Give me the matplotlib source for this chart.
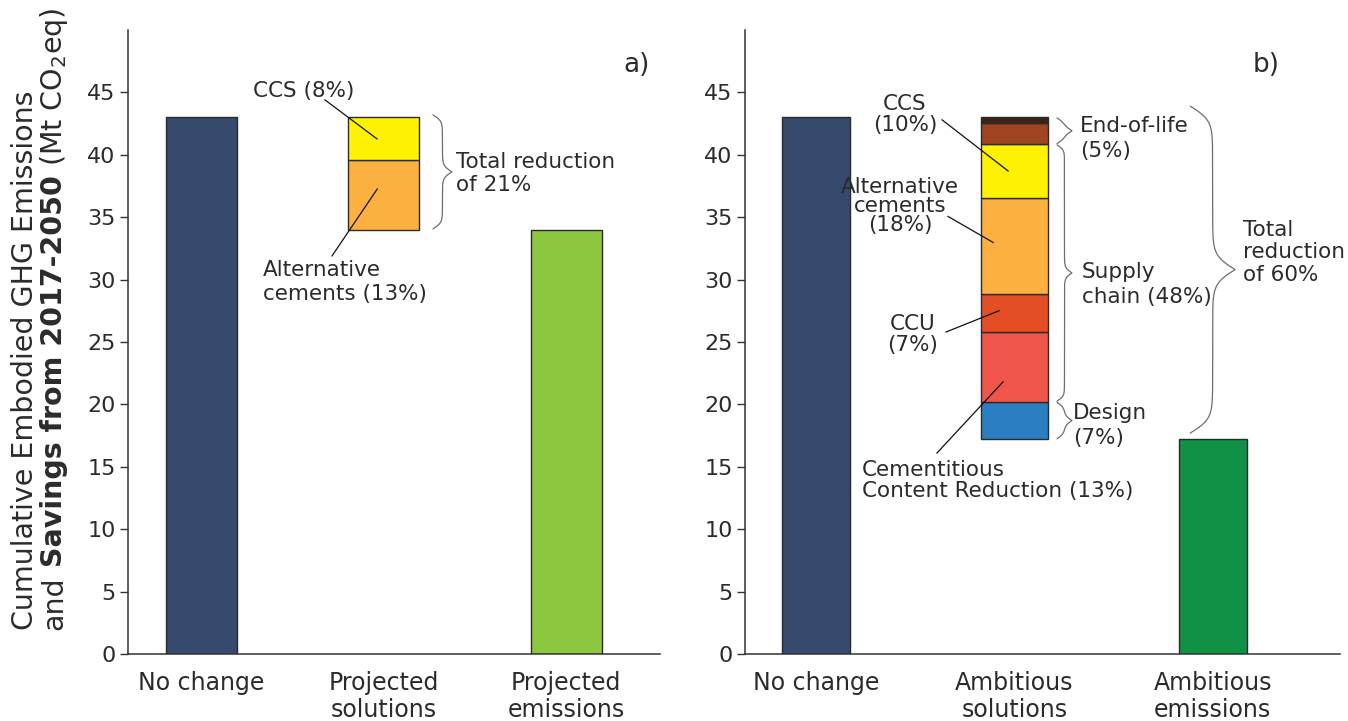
import numpy as np
import matplotlib
matplotlib.use("Agg")
import matplotlib.pyplot as plt

# ---------------- data ----------------
baseline_mt = 43.0  # cumulative embodied GHG emissions with no change (Mt CO2eq)

cats_a = ["No change", "Projected\nsolutions", "Projected\nemissions"]
cats_b = ["No change", "Ambitious\nsolutions", "Ambitious\nemissions"]

# savings, as % of the no-change total, stacked from the bottom up
sav_a_names = ["Alternative cements", "CCS"]
sav_a_pct = [13, 8]

sav_b_names = ["Design", "Cementitious content reduction", "CCU",
               "Alternative cements", "CCS", "End-of-life (reuse)",
               "End-of-life (other)"]
sav_b_pct = [7, 13, 7, 18, 10, 4, 1]

# brace groups for panel b: label, first segment, last segment
groups_b = [("End-of-life\n(5%)", 5, 6),
            ("Supply\nchain (48%)", 1, 4),
            ("Design\n(7%)", 0, 0)]

# ---------------- style ----------------
NAVY = "#364A6E"
GREEN_A = "#8DC63F"
GREEN_B = "#0F9246"
EDGE = "#2a2a2a"
TXT = "#2b2b2b"
BRACE = "#6e6e6e"
sav_a_colors = ["#FBB040", "#FFF200"]
sav_b_colors = ["#2B7EC1", "#EF5548", "#E54E25", "#FBB040", "#FFF200",
                "#A0451F", "#3C2415"]

plt.rcParams["font.family"] = ["DejaVu Sans"]
plt.rcParams["text.color"] = TXT

FIG_W, FIG_H = 1348, 721
fig = plt.figure(figsize=(FIG_W / 100, FIG_H / 100), dpi=100)
ax_a = fig.add_axes([128 / FIG_W, 1 - 654 / FIG_H, 532 / FIG_W, 624 / FIG_H])
ax_b = fig.add_axes([745 / FIG_W, 1 - 654 / FIG_H, 595 / FIG_W, 624 / FIG_H])


def style_axes(ax, cats, xlim):
    ax.set_xlim(*xlim)
    ax.set_ylim(0, 50)
    ax.set_yticks(np.arange(0, 50, 5))
    ax.set_xticks(range(len(cats)))
    ax.set_xticklabels(cats, fontsize=17, color=TXT)
    ax.tick_params(axis="x", length=0, pad=12)
    ax.tick_params(axis="y", direction="out", length=6, width=1,
                   color="#333333", labelsize=16, labelcolor=TXT, pad=3)
    for s in ("top", "right"):
        ax.spines[s].set_visible(False)
    for s in ("left", "bottom"):
        ax.spines[s].set_color("#333333")
        ax.spines[s].set_linewidth(1.1)


def brace(ax, x, y0, y1, width_px, curl_px, color=BRACE, lw=0.9):
    """Right-pointing curly brace from y0 to y1, left edge at x (data)."""
    bb = ax.get_position()
    xr, yr = ax.get_xlim(), ax.get_ylim()
    px_x = bb.width * FIG_W / (xr[1] - xr[0])
    px_y = bb.height * FIG_H / (yr[1] - yr[0])
    L = (y1 - y0) * px_y
    k = L / curl_px
    u = np.linspace(0, 0.5, 300)
    s = 1 / (1 + np.exp(-k * u)) + 1 / (1 + np.exp(-k * (u - 0.5)))
    s = (s - s[0]) / (s[-1] - s[0])
    ys = np.concatenate([y0 + u * (y1 - y0), y0 + (1 - u[::-1]) * (y1 - y0)])
    xs = x + np.concatenate([s, s[::-1]]) * width_px / px_x
    ax.plot(xs, ys, color=color, lw=lw, solid_capstyle="round")


def leader(ax, p0, p1):
    ax.plot([p0[0], p1[0]], [p0[1], p1[1]], color="#111111", lw=0.9)


BAR_W_A = 0.39
BAR_W_B = 0.34

# ---------------- panel a ----------------
style_axes(ax_a, cats_a, (-0.401, 2.514))
emis_a = baseline_mt * (1 - sum(sav_a_pct) / 100)
ax_a.bar(0, baseline_mt, BAR_W_A, color=NAVY, edgecolor=EDGE, lw=1)
ax_a.bar(2, emis_a, BAR_W_A, color=GREEN_A, edgecolor=EDGE, lw=1)
seg_a = [baseline_mt * p / 100 for p in sav_a_pct]
bot_a = emis_a + np.concatenate([[0], np.cumsum(seg_a)[:-1]])
for v, b, c in zip(seg_a, bot_a, sav_a_colors):
    ax_a.bar(1, v, BAR_W_A, bottom=b, color=c, edgecolor=EDGE, lw=1)
mid_a = bot_a + np.array(seg_a) / 2

ax_a.text(0.564, 45.1, "CCS (8%)", ha="center", va="center", fontsize=15.5)
leader(ax_a, (0.678, 44.4), (1 - 0.037, mid_a[1]))
ax_a.text(0.337, 29.8, "Alternative\ncements (13%)", ha="left", va="center",
          fontsize=15.5)
leader(ax_a, (0.717, 31.9), (1 - 0.035, mid_a[0] + 0.5))
brace(ax_a, 1.27, emis_a + 0.1, baseline_mt + 0.2, 19, 3)
ax_a.text(1.396, (emis_a + baseline_mt) / 2, "Total reduction\nof 21%",
          ha="left", va="center", fontsize=15.5)
ax_a.text(0.981, 0.944, "a)", transform=ax_a.transAxes, ha="right",
          va="center", fontsize=19)

# ---------------- panel b ----------------
style_axes(ax_b, cats_b, (-0.357, 2.641))
emis_b = baseline_mt * (1 - sum(sav_b_pct) / 100)
ax_b.bar(0, baseline_mt, BAR_W_B, color=NAVY, edgecolor=EDGE, lw=1)
ax_b.bar(2, emis_b, BAR_W_B, color=GREEN_B, edgecolor=EDGE, lw=1)
seg_b = [baseline_mt * p / 100 for p in sav_b_pct]
cum_b = emis_b + np.concatenate([[0], np.cumsum(seg_b)])
for v, b, c in zip(seg_b, cum_b[:-1], sav_b_colors):
    ax_b.bar(1, v, BAR_W_B, bottom=b, color=c, edgecolor=EDGE, lw=1)
mid_b = cum_b[:-1] + np.array(seg_b) / 2

ax_b.text(0.449, 43.2, "CCS\n(10%)", ha="center", va="center", fontsize=15.5,
          linespacing=1.05)
leader(ax_b, (0.636, 42.8), (1 - 0.031, mid_b[4]))
ax_b.text(0.424, 35.9, "Alternative\ncements\n(18%)", ha="center",
          va="center", fontsize=15.5, linespacing=0.95)
leader(ax_b, (0.666, 35.06), (1 - 0.107, mid_b[3] + 0.3))
ax_b.text(0.489, 25.6, "CCU\n(7%)", ha="center", va="center", fontsize=15.5,
          linespacing=1.05)
leader(ax_b, (0.656, 25.8), (1 - 0.077, mid_b[2] + 0.2))
ax_b.text(0.233, 13.9, "Cementitious\nContent Reduction (13%)", ha="left",
          va="center", fontsize=15.5, linespacing=1.05)
leader(ax_b, (0.61, 16.1), (1 - 0.057, mid_b[1] - 1.2))

group_text_x = {"End-of-life\n(5%)": 1.331, "Supply\nchain (48%)": 1.341,
                "Design\n(7%)": 1.296}
group_text_dy = {"End-of-life\n(5%)": -0.6, "Supply\nchain (48%)": -0.9,
                 "Design\n(7%)": -0.4}
for label, i0, i1 in groups_b:
    y0, y1 = cum_b[i0], cum_b[i1 + 1]
    brace(ax_b, 1.215, y0 + 0.05, y1 - 0.05, 15, 2.5)
    ax_b.text(group_text_x[label], (y0 + y1) / 2 + group_text_dy[label], label,
              ha="left", va="center", fontsize=15.5, linespacing=1.3)

brace(ax_b, 1.886, emis_b + 0.5, baseline_mt + 0.9, 45, 7)
ax_b.text(2.152, 32.2, "Total\nreduction\nof 60%", ha="left", va="center",
          fontsize=15.5, linespacing=1.15)
ax_b.text(0.899, 0.944, "b)", transform=ax_b.transAxes, ha="right",
          va="center", fontsize=19)

# ---------------- y label (two lines, part bold) ----------------
renderer = fig.canvas.get_renderer()
YL_SIZE = 20.5


def text_width(s, **kw):
    t = fig.text(0, 0, s, fontsize=YL_SIZE, **kw)
    w = t.get_window_extent(renderer).width
    t.remove()
    return w


y_start = (FIG_H - 630) / FIG_H
fig.text(33 / FIG_W, y_start, "Cumulative Embodied GHG Emissions",
         rotation=90, rotation_mode="anchor", ha="left", va="baseline",
         fontsize=YL_SIZE, color=TXT)

space = text_width("a a") - text_width("aa")
parts = [("and", "normal"), ("Savings from 2017-2050", "bold"),
         ("(Mt CO$_2$eq)", "normal")]
y_px = FIG_H - 630
for txt, wt in parts:
    fig.text(62 / FIG_W, y_px / FIG_H, txt, rotation=90, rotation_mode="anchor",
             ha="left", va="baseline", fontsize=YL_SIZE, fontweight=wt,
             color=TXT)
    y_px += text_width(txt, fontweight=wt) + space

fig.savefig("out.png", dpi=100)
